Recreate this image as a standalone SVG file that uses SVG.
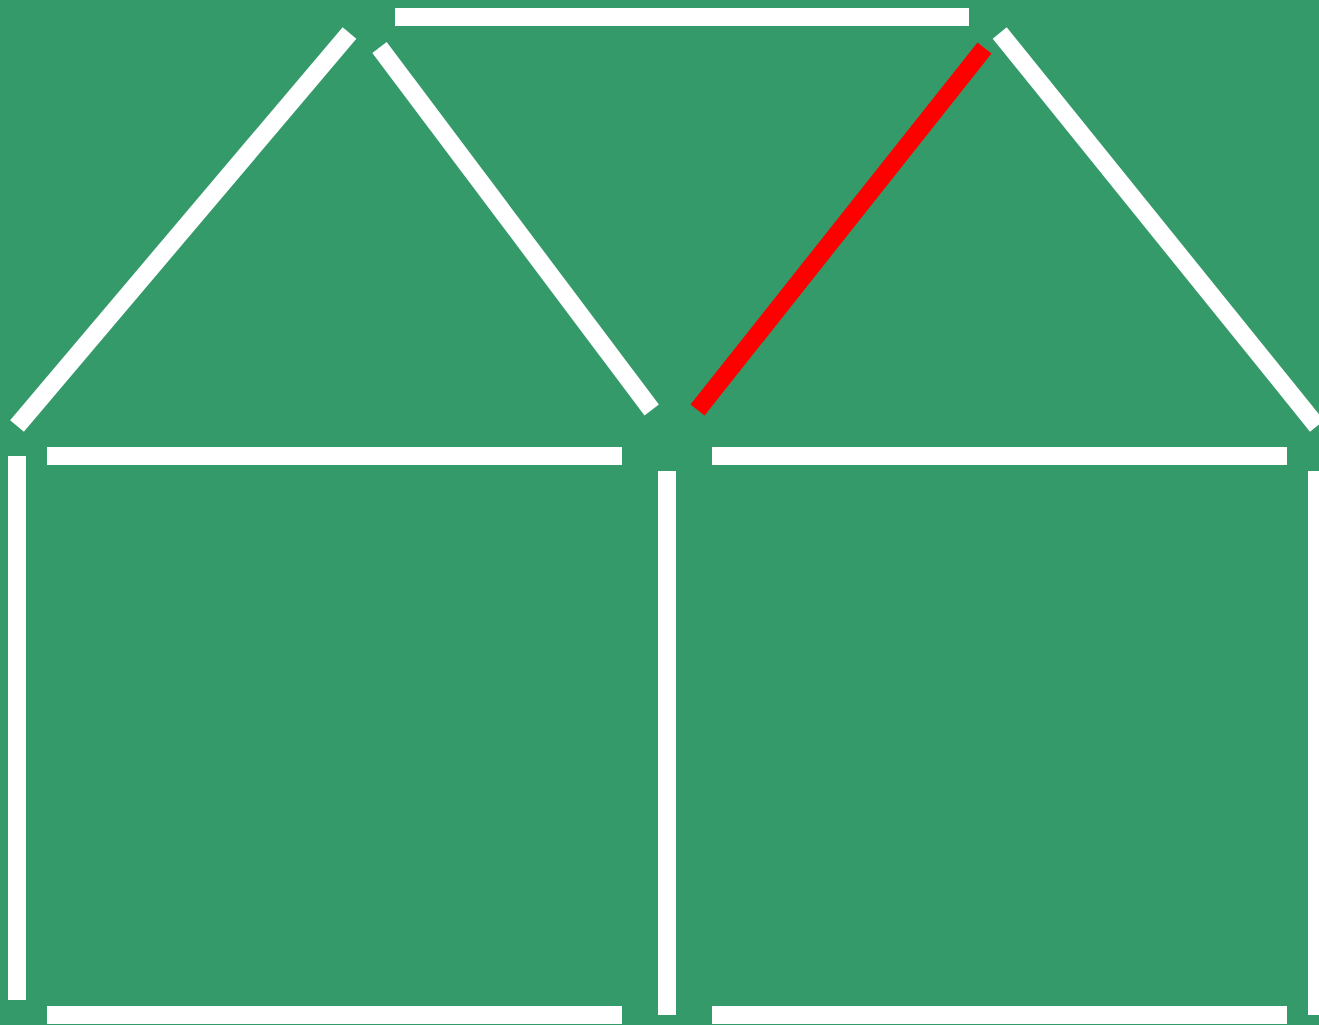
<svg xmlns="http://www.w3.org/2000/svg" width="1319" height="1025" viewBox="0 0 1319 1025">
<style>
.s{fill:#ffffff}
.d{stroke:#ffffff;stroke-width:18;stroke-linecap:butt;fill:none}
.r{stroke:#ff0000;stroke-width:18;stroke-linecap:butt;fill:none}
</style>
<rect x="0" y="0" width="1319" height="1025" fill="#359a6a"/>
<g id="sticks">
<rect id="top" class="s" x="395" y="8" width="574" height="18"/>
<line id="roof-left-outer" class="d" x1="17" y1="426" x2="349.5" y2="33"/>
<line id="roof-left-inner" class="d" x1="379.5" y1="47.5" x2="651.7" y2="410"/>
<line id="roof-red" class="r" x1="697.5" y1="410" x2="984.5" y2="48"/>
<line id="roof-right-outer" class="d" x1="999.7" y1="33" x2="1317" y2="426"/>
<rect id="mid-left" class="s" x="47" y="447" width="575" height="18"/>
<rect id="mid-right" class="s" x="712" y="447" width="575" height="18"/>
<rect id="wall-left" class="s" x="8" y="456" width="18" height="544"/>
<rect id="wall-mid" class="s" x="658" y="471" width="18" height="544"/>
<rect id="wall-right" class="s" x="1308" y="471" width="18" height="544"/>
<rect id="bottom-left" class="s" x="47" y="1006" width="575" height="18"/>
<rect id="bottom-right" class="s" x="712" y="1006" width="575" height="18"/>
</g>
</svg>
